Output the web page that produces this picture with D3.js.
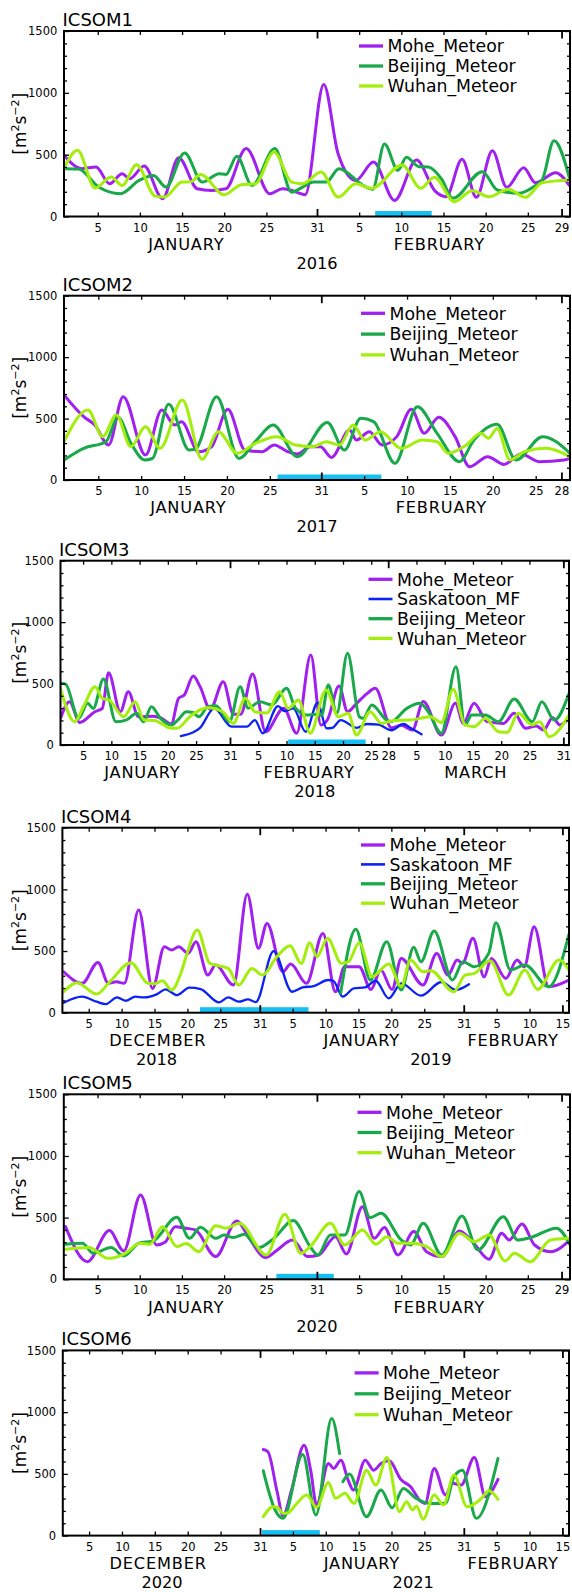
<!DOCTYPE html>
<html><head><meta charset="utf-8">
<script src="https://cdn.jsdelivr.net/npm/d3@7"></script>
<style>body{margin:0;background:#fff} svg{display:block}</style>
</head><body>
<svg id="c" width="572" height="1592"></svg>
<script>
// ---------- DATA (day index within panel, value m^2 s^-2) ----------
const p1Mohe = [[1,495],[3.1,387],[4.8,400],[6.4,265],[7.9,346],[8.8,305],[10.5,408],[12.7,143],[14.6,476],[16.8,224],[18.5,210],[20.2,224],[22.6,549],[25.4,184],[26.9,224],[28,210],[29.6,176],[31.8,1068],[33.5,508],[35.6,292],[37.7,440],[40.2,130],[42.8,456],[45,205],[46.3,160],[48.2,462],[49.9,155],[51.8,532],[53.5,236],[55.5,395],[56.9,273],[59.3,354],[61,245]];
const p1Beijing = [[1,387],[2.7,385],[5.1,238],[7.7,184],[9.9,292],[11.6,332],[13.1,238],[15.3,514],[17.4,278],[19.4,346],[20.2,340],[21.5,487],[23.3,251],[26,549],[28,197],[29.3,238],[30.6,278],[32.1,278],[33.6,387],[36.5,250],[37.6,220],[39,586],[40.6,373],[41.6,480],[43.1,403],[44.2,400],[45.8,300],[47.1,147],[50.6,362],[52.4,214],[54.9,188],[56.7,241],[57.7,295],[59.1,613],[61,295]];
const p1Wuhan = [[1,387],[2.6,535],[4.7,230],[6.6,319],[7.9,251],[9.6,419],[11.8,165],[12.9,157],[15,278],[16,280],[17.2,340],[20,176],[22,257],[23.7,265],[25.9,522],[28,278],[29.3,265],[31.5,360],[33.5,157],[35.6,265],[37.5,228],[41.1,416],[43.3,228],[44.9,317],[47.3,120],[49.4,209],[51.4,160],[53.7,220],[55.7,155],[57.7,273],[61,295]];

const p2Mohe = [[1,692],[3.3,515],[4.6,447],[6.2,285],[7.9,678],[10.5,203],[12.4,570],[13.9,447],[14.7,475],[16.7,230],[18.2,271],[20.1,575],[22.1,244],[24.1,230],[25.5,285],[27.1,230],[28.2,212],[29.7,271],[30.9,271],[32.2,184],[34.3,407],[35.1,325],[36.6,393],[38.1,285],[39.8,353],[41.5,575],[43,380],[44.7,510],[46.6,353],[48.3,108],[50.4,190],[52.3,127],[54.3,212],[56.4,149],[59.3,163],[60,175]];
const p2Beijing = [[1,163],[3.3,258],[5.9,312],[7.3,510],[8.8,300],[10.4,163],[11.3,175],[13.2,616],[15.6,244],[16.3,250],[18.8,678],[21.4,176],[23.3,312],[25.4,447],[28.2,190],[31.7,469],[33.7,244],[35.6,502],[37.1,475],[39.6,136],[42.2,597],[44.5,380],[47.1,149],[48.8,325],[51.5,453],[53.7,163],[56.8,353],[60,217]];
const p2Wuhan = [[1,312],[3.8,570],[5.5,353],[7.1,529],[8.8,271],[10.5,434],[12.2,258],[14.8,651],[17.1,168],[19,393],[21.2,217],[23.3,298],[25.8,353],[28,285],[30,271],[31.6,312],[33.1,285],[34.7,447],[36.1,325],[37.9,393],[40.3,258],[42.8,325],[44.5,312],[45.8,217],[47.9,285],[49.6,380],[50.5,340],[51.5,420],[53,163],[54.7,231],[57.2,258],[60,190]];

const p3Mohe = [[1,217],[2.6,353],[4.4,184],[7.1,271],[8.4,298],[9.5,588],[11.6,271],[13,434],[14.8,230],[17.4,235],[18.7,222],[20.6,170],[21.9,380],[22.9,407],[24.5,561],[25.7,475],[27.5,290],[29.8,515],[31.6,250],[32.9,250],[35,578],[37.3,108],[40.5,300],[42.8,95],[45.3,733],[47.1,163],[48.3,210],[50.3,480],[51.8,271],[53.4,339],[55.3,420],[56.7,461],[59.6,140],[61.3,160],[63.3,122],[65.2,355],[68.4,81],[70.9,339],[72.3,176],[74.2,339],[76.5,190],[79.4,176],[81.3,258],[83.3,136],[85.2,155],[86.5,122],[88.1,222],[89.4,163],[91,222]];
const p3Saskatoon = [[22.3,73],[24.5,103],[25.7,140],[28.2,298],[31.3,149],[34,149],[35.4,203],[36.8,95],[39.5,317],[40.7,275],[42.2,298],[44.4,108],[46.5,344],[48.1,136],[49.1,140],[50.6,203],[53.4,140],[55.2,171],[57.3,165],[59.6,120],[61.7,171],[62.9,140],[64.9,87]];
const p3Beijing = [[1,502],[1.9,495],[4.2,217],[5.8,339],[6.8,298],[8.6,537],[10.8,190],[12.6,203],[14.5,258],[15.7,190],[17.1,312],[18.7,217],[20.6,163],[21.7,200],[23.3,271],[24.4,265],[25.5,230],[27.1,312],[28.5,320],[30.9,190],[32.8,475],[34.2,300],[36.3,352],[38.4,326],[41,461],[42.6,300],[44.6,244],[46.2,250],[47.2,240],[48.4,488],[49.9,258],[51.8,746],[53.9,230],[54.6,217],[56.1,326],[58.7,203],[59.5,190],[62.3,298],[64.6,339],[66.1,271],[68.4,95],[71,637],[72.6,163],[73.8,244],[76.2,244],[78.5,190],[81.3,374],[84.5,190],[86.2,353],[88.4,203],[91,420]];
const p3Wuhan = [[1,461],[3.5,190],[5.2,325],[7.1,475],[8.4,380],[9.6,366],[12.2,230],[14.2,353],[15.8,203],[17.6,200],[20.6,136],[21.6,136],[23.9,230],[25.7,285],[27.1,304],[29.7,271],[31.6,176],[33.7,380],[35.4,271],[37.5,260],[39.8,434],[41.3,298],[43.1,366],[45.2,95],[48,448],[50.2,230],[51.9,258],[53.4,81],[55.8,271],[57.8,176],[60,200],[62.9,203],[66.4,230],[68.4,184],[70.5,453],[72.6,163],[74.2,149],[76.2,217],[78.5,108],[80.1,103],[82,258],[84.5,163],[85.8,190],[87.5,68],[91,244]];

const p4Mohe = [[1.2,332],[4,238],[6.4,408],[8,238],[9.2,250],[10.4,238],[12.6,833],[14.7,197],[16.5,535],[17.6,508],[18.7,535],[20.1,481],[21.3,576],[23.1,305],[24.3,387],[27,224],[29.1,960],[30.8,522],[32.1,724],[34.5,332],[35.7,395],[38.1,238],[40.6,643],[42.5,170],[43.9,373],[46.1,373],[47.9,189],[49.4,346],[51.1,189],[52.5,440],[55.8,224],[57.9,481],[59.6,305],[61,427],[61.8,400],[63.4,603],[65.1,290],[66.2,440],[68.4,278],[70.1,427],[71.2,373],[72.7,697],[74.9,211],[78,265]];
const p4Saskatoon = [[1.2,81],[4,130],[6.2,89],[7.6,70],[9.3,124],[10.6,97],[12.1,130],[13.4,124],[15.4,151],[16.7,189],[18.4,143],[20.3,203],[22,192],[24.8,84],[26.2,124],[27.8,89],[29.2,108],[30.4,86],[33.1,500],[35.9,170],[37.5,205],[39.2,216],[41.4,265],[42.2,257],[43.6,130],[45.3,197],[47,205],[48.6,259],[50.6,116],[52.5,238],[55.5,138],[58.6,249],[60.8,184],[62.8,230]];
const p4Beijing = [[43.3,160],[45.6,676],[47.8,265],[50.3,576],[52.5,184],[54.4,530],[55.5,414],[57.5,662],[60.3,265],[61.9,414],[63.6,373],[65.8,481],[66.9,730],[69.1,346],[71.3,387],[74.9,211],[78,638]];
const p4Wuhan = [[1.2,170],[3.2,243],[6.2,151],[8.2,250],[11.4,405],[14,238],[15,235],[16.2,259],[17.6,184],[19,319],[19.8,454],[21.5,670],[23.4,400],[24.8,380],[26.2,359],[27.8,224],[29.8,359],[31.4,305],[33.6,454],[35.6,543],[37.3,400],[38.6,568],[39.7,454],[41.3,603],[43.4,400],[44.5,414],[46.1,568],[48.1,292],[50.6,395],[52.5,211],[53.9,427],[55.8,332],[57,340],[60.5,170],[62.2,305],[63.6,319],[66,422],[68.8,143],[71.3,346],[73.2,189],[76.5,427],[78,346]];

const p5Mohe = [[1.2,427],[3.8,143],[6.4,395],[8.1,230],[10.1,684],[12,278],[13,300],[14.2,427],[15.5,414],[16.6,400],[19,184],[21.5,473],[23,330],[24.9,176],[26.3,238],[28.1,319],[29.9,184],[31.2,197],[33.2,346],[34.5,205],[36.4,589],[37.8,332],[39,419],[40.6,197],[42.5,387],[44,224],[45.8,184],[47.9,392],[49.5,300],[51.4,162],[52.9,373],[53.8,319],[55.3,449],[56.8,278],[58.7,224],[61,319]];
const p5Beijing = [[1.2,284],[3.2,292],[4.5,211],[6.6,257],[8.1,189],[9.9,292],[11.6,311],[14.4,503],[15.9,332],[17.2,422],[19,332],[20,359],[21.1,338],[22.4,365],[24.1,257],[25.9,332],[28.2,476],[30.2,265],[31.1,197],[32.6,359],[34.3,359],[36,711],[37.3,500],[38.6,535],[41,319],[42.1,278],[43.6,454],[45.8,197],[48.2,514],[50.1,238],[53.1,508],[54.8,319],[56.3,338],[59.4,414],[61,280]];
const p5Wuhan = [[1.2,243],[4,257],[6.2,170],[8.1,203],[10.1,292],[11.2,284],[12.7,427],[14.4,265],[15.5,290],[17,224],[19,435],[20.2,414],[21.8,454],[25,197],[27.2,527],[29.1,211],[30.2,265],[32.6,454],[34.3,278],[36.4,400],[38,284],[39.3,346],[40.6,292],[42.3,292],[44,265],[45.8,184],[47.9,373],[49.7,305],[51.4,359],[53.3,149],[54.4,211],[56.3,143],[58.7,319],[61,332]];

const p6Mohe = [[31.5,697],[32.2,679],[33.6,355],[34.5,162],[35.8,369],[37.7,732],[38.7,530],[39.6,248],[41.4,584],[42.2,544],[43.3,611],[44.4,450],[45.2,369],[47,611],[48.3,530],[49.4,584],[50.6,606],[52.5,450],[53.9,396],[55.5,275],[56.1,261],[57.5,544],[59.2,329],[60.3,423],[61.6,409],[63.6,633],[65.3,315],[67.2,455]];
const p6Beijing = [[31.5,525],[33.3,207],[34.5,140],[37.5,657],[39.5,167],[41.9,948],[43.1,665],[43.3,null],[43.6,436],[44.6,498],[47.2,153],[49.4,369],[51.1,226],[52.8,382],[54.7,302],[56.9,261],[59.2,261],[60.5,477],[61.8,530],[63.9,140],[67.2,625]];
const p6Wuhan = [[31.5,153],[33,234],[33.6,230],[34.5,180],[35.3,185],[36.4,248],[38.1,329],[39.6,229],[41.4,431],[42.5,302],[43.9,342],[45.3,261],[47.2,530],[48.6,409],[50.3,633],[52.2,194],[53.3,275],[54.2,207],[54.8,240],[55.8,132],[57.5,329],[58.9,248],[60.5,490],[62.5,234],[64.7,302],[65.8,364],[67.2,294]];

// months: [name, days shown]
const months1 = [["JANUARY",31],["FEBRUARY",29]];
const months2 = [["JANUARY",31],["FEBRUARY",28]];
const months3 = [["JANUARY",31],["FEBRUARY",28],["MARCH",31]];
const months4 = [["DECEMBER",31],["JANUARY",31],["FEBRUARY",15]];
const months5 = [["JANUARY",31],["FEBRUARY",29]];
const months6 = [["DECEMBER",31],["JANUARY",31],["FEBRUARY",15]];
const tickDays = [5,10,15,20,25];
const yMajor = [0,500,1000,1500];

// highlighted periods (day index range)
const bar1 = [37.9,44.6], bar2 = [25.9,38], bar3 = [41.3,55], bar4 = [21.9,38.4], bar5 = [26.2,33], bar6 = [31.3,40.1];

// year labels: [text, day position or null = centred]
const years1 = [["2016",null]], years2 = [["2017",null]], years3 = [["2018",null]];
const years4 = [["2018",15.3],["2019",57]], years5 = [["2020",null]], years6 = [["2020",16.1],["2021",54.3]];

const titles = ["ICSOM1","ICSOM2","ICSOM3","ICSOM4","ICSOM5","ICSOM6"];

const colors = {Mohe_Meteor:"#a020f0", Saskatoon_MF:"#0c22f2", Beijing_Meteor:"#19a84a", Wuhan_Meteor:"#a3ee0c"};
const widths = {Mohe_Meteor:3, Saskatoon_MF:2.3, Beijing_Meteor:3, Wuhan_Meteor:3};

// ---------- LAYOUT ----------
const panels = [
  {top:31,    bottom:216.5,  left:64,   right:570, months:months1, years:years1, bar:bar1, lgX:359,   lgY:15,   lgS:20,
   series:[["Mohe_Meteor",p1Mohe],["Beijing_Meteor",p1Beijing],["Wuhan_Meteor",p1Wuhan]]},
  {top:295.7, bottom:480,    left:64,   right:570, months:months2, years:years2, bar:bar2, lgX:361,   lgY:17.6, lgS:20.8,
   series:[["Mohe_Meteor",p2Mohe],["Beijing_Meteor",p2Beijing],["Wuhan_Meteor",p2Wuhan]]},
  {top:560.7, bottom:745,    left:60.5, right:569, months:months3, years:years3, bar:bar3, lgX:368.5, lgY:18.6, lgS:19.7,
   series:[["Mohe_Meteor",p3Mohe],["Saskatoon_MF",p3Saskatoon],["Beijing_Meteor",p3Beijing],["Wuhan_Meteor",p3Wuhan]]},
  {top:827.7, bottom:1012.7, left:62.4, right:569, months:months4, years:years4, bar:bar4, lgX:361,   lgY:17.3, lgS:19.4,
   series:[["Mohe_Meteor",p4Mohe],["Saskatoon_MF",p4Saskatoon],["Beijing_Meteor",p4Beijing],["Wuhan_Meteor",p4Wuhan]]},
  {top:1094.3,bottom:1279.3, left:63.8, right:570, months:months5, years:years5, bar:bar5, lgX:357.5, lgY:18,   lgS:20.2,
   series:[["Mohe_Meteor",p5Mohe],["Beijing_Meteor",p5Beijing],["Wuhan_Meteor",p5Wuhan]]},
  {top:1350.4,bottom:1535.6, left:62.8, right:569, months:months6, years:years6, bar:bar6, lgX:354.6, lgY:22.5, lgS:20.9,
   series:[["Mohe_Meteor",p6Mohe],["Beijing_Meteor",p6Beijing],["Wuhan_Meteor",p6Wuhan]]}
];

const FONT = "DejaVu Sans";
const svg = d3.select("#c").attr("font-family", FONT);

panels.forEach((P, pi) => {
  const total = d3.sum(P.months, m => m[1]);
  const x = d3.scaleLinear().domain([1, total + 1]).range([P.left, P.right]);
  const y = d3.scaleLinear().domain([0, 1500]).range([P.bottom, P.top]);
  const g = svg.append("g");

  const ticks = [], labels = new Map(), longs = new Set(), monthInfo = [];
  let off = 0;
  P.months.forEach(([name, n]) => {
    const ds = tickDays.filter(d => d < n).concat([n]);
    ds.forEach(d => { ticks.push(off + d); labels.set(off + d, String(d)); });
    longs.add(off + n);
    monthInfo.push([name, (off + 1 + off + n) / 2 - 0.5]);
    off += n;
  });

  const clipId = "clip" + pi;
  g.append("clipPath").attr("id", clipId).append("rect")
    .attr("x", P.left).attr("y", P.top).attr("width", P.right - P.left).attr("height", P.bottom - P.top);

  const line = d3.line().defined(d => d[1] != null)
    .x(d => x(d[0])).y(d => y(d[1])).curve(d3.curveMonotoneX);
  const lg = g.append("g").attr("clip-path", `url(#${clipId})`);
  P.series.forEach(([name, data]) => {
    lg.append("path").datum(data).attr("d", line).attr("fill", "none")
      .attr("stroke", colors[name]).attr("stroke-width", widths[name])
      .attr("stroke-linejoin", "round").attr("stroke-linecap", "round");
  });

  g.append("rect").attr("x", x(P.bar[0])).attr("width", x(P.bar[1]) - x(P.bar[0]))
    .attr("y", P.bottom - 5.5).attr("height", 5.5).attr("fill", "#16bff2");

  const styleAxis = sel => {
    sel.select(".domain").remove();
    sel.selectAll("line").attr("stroke", "#000").attr("stroke-width", 1.3);
    sel.selectAll("text").attr("font-family", FONT).attr("font-size", 11.5).attr("fill", "#000");
  };
  const fmt = d => labels.get(d);
  const xb = g.append("g").attr("transform", `translate(0,${P.bottom})`)
    .call(d3.axisBottom(x).tickValues(ticks).tickFormat(fmt).tickSize(-4).tickSizeOuter(0).tickPadding(7))
    .call(styleAxis);
  xb.selectAll(".tick").filter(d => longs.has(d)).select("line").attr("y2", -7.5).attr("stroke-width", 1.8);
  const xt = g.append("g").attr("transform", `translate(0,${P.top})`)
    .call(d3.axisTop(x).tickValues(ticks).tickFormat("").tickSize(-4).tickSizeOuter(0))
    .call(styleAxis);
  xt.selectAll(".tick").filter(d => longs.has(d)).select("line").attr("y2", 7.5).attr("stroke-width", 1.8);

  const minor = d3.range(0, 1501, 100).filter(v => v % 500 !== 0);
  g.append("g").attr("transform", `translate(${P.left},0)`)
    .call(d3.axisLeft(y).tickValues(yMajor).tickFormat(d3.format("d")).tickSize(-5).tickSizeOuter(0).tickPadding(6.7))
    .call(styleAxis);
  g.append("g").attr("transform", `translate(${P.left},0)`)
    .call(d3.axisLeft(y).tickValues(minor).tickFormat("").tickSize(-3).tickSizeOuter(0))
    .call(styleAxis);
  g.append("g").attr("transform", `translate(${P.right},0)`)
    .call(d3.axisRight(y).tickValues(yMajor).tickFormat("").tickSize(-5).tickSizeOuter(0))
    .call(styleAxis);
  g.append("g").attr("transform", `translate(${P.right},0)`)
    .call(d3.axisRight(y).tickValues(minor).tickFormat("").tickSize(-3).tickSizeOuter(0))
    .call(styleAxis);

  g.append("rect").attr("x", P.left).attr("y", P.top).attr("width", P.right - P.left)
    .attr("height", P.bottom - P.top).attr("fill", "none").attr("stroke", "#000").attr("stroke-width", 2);

  // month labels
  monthInfo.forEach(([name, c]) => {
    g.append("text").attr("x", x(c)).attr("y", P.bottom + 33.4).attr("text-anchor", "middle")
      .attr("font-size", 16.2).attr("letter-spacing", 0.8).text(name);
  });
  // year labels
  P.years.forEach(([t, d]) => {
    const cx = d == null ? (P.left + P.right) / 2 : x(d);
    g.append("text").attr("x", cx).attr("y", P.bottom + 52.3).attr("text-anchor", "middle")
      .attr("font-size", 16.2).text(t);
  });

  g.append("text").attr("x", P.left - 1.5).attr("y", P.top - 5).attr("font-size", 18).text(titles[pi]);

  const yl = g.append("text").attr("transform", `translate(26,${(P.top + P.bottom) / 2}) rotate(-90)`)
    .attr("text-anchor", "middle").attr("font-size", 17);
  yl.append("tspan").text("[m");
  yl.append("tspan").attr("font-size", 11).attr("dy", -7).text("2");
  yl.append("tspan").attr("dy", 7).text("s");
  yl.append("tspan").attr("font-size", 11).attr("dy", -7).text("\u22122");
  yl.append("tspan").attr("dy", 7).text("]");

  P.series.forEach(([name], i) => {
    const cy = P.top + P.lgY + i * P.lgS;
    g.append("line").attr("x1", P.lgX).attr("x2", P.lgX + 24).attr("y1", cy).attr("y2", cy)
      .attr("stroke", colors[name]).attr("stroke-width", widths[name] + 0.3);
    g.append("text").attr("x", P.lgX + 28.5).attr("y", cy + 6.2).attr("font-size", 17.3).text(name);
  });
});
</script>
</body></html>
